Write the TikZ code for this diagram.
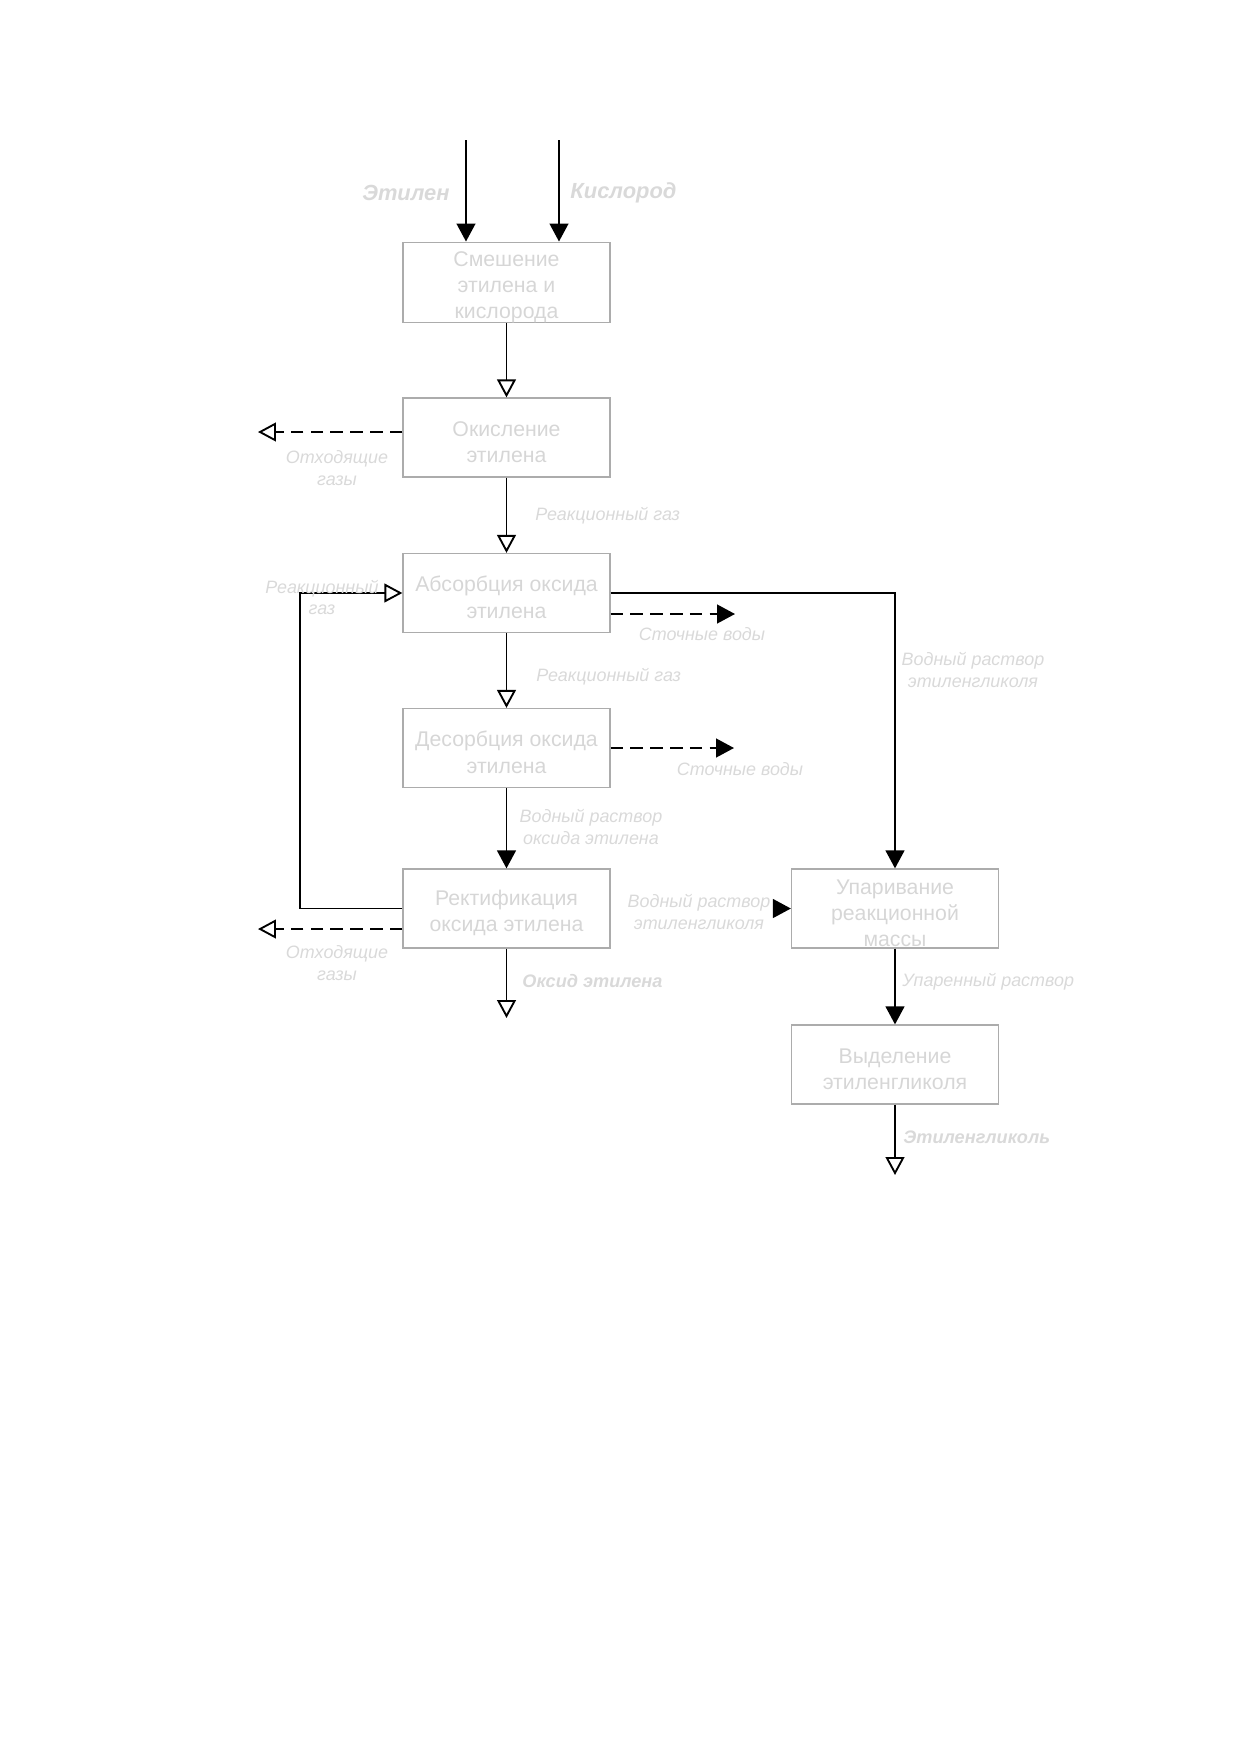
\documentclass[tikz,border=0pt]{standalone}
\usepackage{fontspec}
\setmainfont{Liberation Sans}
\usetikzlibrary{arrows.meta}
\newcommand{\tpstrut}{\rule{0pt}{11.6pt}}
\begin{document}
\begin{tikzpicture}[x=0.4797pt,y=-0.4797pt,
  box/.style={draw=gray!65,line width=0.6pt,minimum width=99.3pt,minimum height=37.9pt,inner sep=0pt,align=center,text=gray!32,font=\fontsize{10.2}{12.5}\selectfont},
  lbl/.style={text=gray!30,align=center,inner sep=0pt,font=\itshape\fontsize{8.6}{10.3}\selectfont},
  blbl/.style={text=gray!30,align=center,inner sep=0pt,font=\bfseries\itshape\fontsize{8.7}{10.5}\selectfont},
  flow/.style={line width=0.9pt,draw=black},
  filled/.style={flow,-{Triangle[length=8.6pt,width=9pt]}},
  hollow/.style={flow,-{Triangle[open,length=8.6pt,width=9pt]}},
  dsh/.style={dash pattern=on 6pt off 3.5pt}]
\useasboundingbox (0,0) rectangle (1241,1755);
% boxes
\node[box] (b1) at (506.5,282.5) {\tpstrut Смешение\\этилена и\\кислорода};
\node[box] (b2) at (506.5,437.5) {\tpstrut Окисление\\этилена};
\node[box] (b3) at (506.5,593) {\tpstrut Абсорбция оксида\\этилена};
\node[box] (b4) at (506.5,748) {\tpstrut Десорбция оксида\\этилена};
\node[box] (b5) at (506.5,908.5) {\tpstrut Ректификация\\оксида этилена};
\node[box] (b6) at (895,908.5) {\tpstrut Упаривание\\реакционной\\массы};
\node[box] (b7) at (895,1064.5) {\tpstrut Выделение\\этиленгликоля};
% coordinates
\coordinate (in1) at (466,140);
\coordinate (in2) at (559,140);
\coordinate (w1) at (258,432);
\coordinate (w2) at (258,929);
\coordinate (s1) at (735,614);
\coordinate (s2) at (734,748);
\coordinate (r1) at (300,908.5);
\coordinate (m1) at (773,908.5);
\coordinate (o1) at (506.5,1018);
\coordinate (o2) at (895,1175);
% connectors
\draw[filled] (in1) -- (in1 |- b1.north);
\draw[filled] (in2) -- (in2 |- b1.north);
\draw[hollow] (b1) -- (b2);
\draw[hollow] (b2) -- (b3);
\draw[hollow] (b3) -- (b4);
\draw[filled] (b4) -- (b5);
\draw[hollow] (b5) -- (o1);
\draw[filled] (b6) -- (b7);
\draw[hollow] (b7) -- (o2);
\draw[hollow,dsh] (b2.west |- w1) -- (w1);
\draw[hollow,dsh] (b5.west |- w2) -- (w2);
\draw[filled,dsh] (b3.east |- s1) -- (s1);
\draw[filled,dsh] (b4.east |- s2) -- (s2);
\draw[hollow] (b5.west) -- (r1) |- (b3.west);
\draw[filled] (b3.east) -| (b6.north);
\draw[filled] (m1) -- (b6.west);
% labels
\node[blbl,anchor=east,font=\bfseries\itshape\fontsize{10.5}{12}\selectfont] (l1) at (450,193) {Этилен};
\node[blbl,anchor=west,font=\bfseries\itshape\fontsize{10.5}{12}\selectfont] (l2) at (570,193) {Кислород};
\node[lbl] (l3) at (337,468) {Отходящие\\газы};
\node[lbl,anchor=west] (l4) at (535,516) {Реакционный газ};
\node[lbl] (l5) at (322,597.5) {Реакционный\\газ};
\node[lbl] (l6) at (702,634) {Сточные воды};
\node[lbl] (l7) at (973,670) {Водный раствор\\этиленгликоля};
\node[lbl,anchor=west] (l8) at (536,677) {Реакционный газ};
\node[lbl] (l9) at (740,769) {Сточные воды};
\node[lbl] (l10) at (591,827) {Водный раствор\\оксида этилена};
\node[lbl] (l11) at (699,912) {Водный раствор\\этиленгликоля};
\node[lbl] (l12) at (337,963) {Отходящие\\газы};
\node[blbl,anchor=west] (l13) at (522,981) {Оксид этилена};
\node[lbl,anchor=west] (l14) at (902,982) {Упаренный раствор};
\node[blbl,anchor=west] (l15) at (903,1137) {Этиленгликоль};
\end{tikzpicture}
\end{document}
